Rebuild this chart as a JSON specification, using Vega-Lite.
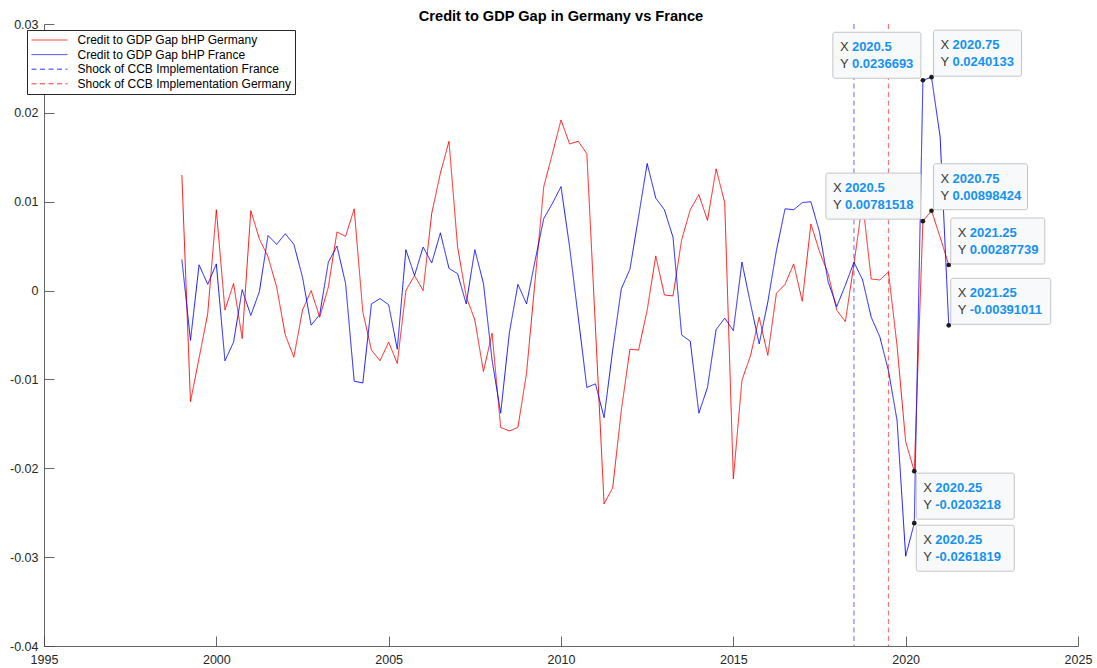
{
  "$schema": "https://vega.github.io/schema/vega-lite/v6.json",
  "autosize": "none",
  "width": 1034,
  "height": 622,
  "padding": {"left": 44, "top": 24, "right": 19, "bottom": 22},
  "background": "white",
  "title": {"text": "Credit to GDP Gap in Germany vs France", "font": "Liberation Sans", "fontSize": 14.6, "fontWeight": "bold", "color": "black", "anchor": "middle", "offset": -6},
  "config": {
    "view": {"stroke": null},
    "axis": {"grid": false, "title": null, "labelFont": "Liberation Sans", "labelFontSize": 12.5, "labelColor": "#262626", "domainColor": "#404040", "domainWidth": 0.8, "tickColor": "#404040", "tickWidth": 0.8, "tickSize": -10, "labelFlush": false, "labelOverlap": false}
  },
  "datasets": {
    "gaps": [
      {"t":1999.0,"series":"Credit to GDP Gap bHP Germany","gap":0.0130},
      {"t":1999.25,"series":"Credit to GDP Gap bHP Germany","gap":-0.0125},
      {"t":1999.5,"series":"Credit to GDP Gap bHP Germany","gap":-0.0076},
      {"t":1999.75,"series":"Credit to GDP Gap bHP Germany","gap":-0.0026},
      {"t":2000.0,"series":"Credit to GDP Gap bHP Germany","gap":0.0091},
      {"t":2000.25,"series":"Credit to GDP Gap bHP Germany","gap":-0.0022},
      {"t":2000.5,"series":"Credit to GDP Gap bHP Germany","gap":0.0008},
      {"t":2000.75,"series":"Credit to GDP Gap bHP Germany","gap":-0.0054},
      {"t":2001.0,"series":"Credit to GDP Gap bHP Germany","gap":0.0090},
      {"t":2001.25,"series":"Credit to GDP Gap bHP Germany","gap":0.0058},
      {"t":2001.5,"series":"Credit to GDP Gap bHP Germany","gap":0.0038},
      {"t":2001.75,"series":"Credit to GDP Gap bHP Germany","gap":0.0004},
      {"t":2002.0,"series":"Credit to GDP Gap bHP Germany","gap":-0.0050},
      {"t":2002.25,"series":"Credit to GDP Gap bHP Germany","gap":-0.0075},
      {"t":2002.5,"series":"Credit to GDP Gap bHP Germany","gap":-0.0022},
      {"t":2002.75,"series":"Credit to GDP Gap bHP Germany","gap":0.0000},
      {"t":2003.0,"series":"Credit to GDP Gap bHP Germany","gap":-0.0030},
      {"t":2003.25,"series":"Credit to GDP Gap bHP Germany","gap":0.0004},
      {"t":2003.5,"series":"Credit to GDP Gap bHP Germany","gap":0.0066},
      {"t":2003.75,"series":"Credit to GDP Gap bHP Germany","gap":0.0061},
      {"t":2004.0,"series":"Credit to GDP Gap bHP Germany","gap":0.0092},
      {"t":2004.25,"series":"Credit to GDP Gap bHP Germany","gap":-0.0024},
      {"t":2004.5,"series":"Credit to GDP Gap bHP Germany","gap":-0.0067},
      {"t":2004.75,"series":"Credit to GDP Gap bHP Germany","gap":-0.0079},
      {"t":2005.0,"series":"Credit to GDP Gap bHP Germany","gap":-0.0058},
      {"t":2005.25,"series":"Credit to GDP Gap bHP Germany","gap":-0.0082},
      {"t":2005.5,"series":"Credit to GDP Gap bHP Germany","gap":0.0000},
      {"t":2005.75,"series":"Credit to GDP Gap bHP Germany","gap":0.0017},
      {"t":2006.0,"series":"Credit to GDP Gap bHP Germany","gap":0.0000},
      {"t":2006.25,"series":"Credit to GDP Gap bHP Germany","gap":0.0087},
      {"t":2006.5,"series":"Credit to GDP Gap bHP Germany","gap":0.0132},
      {"t":2006.75,"series":"Credit to GDP Gap bHP Germany","gap":0.0168},
      {"t":2007.0,"series":"Credit to GDP Gap bHP Germany","gap":0.0049},
      {"t":2007.25,"series":"Credit to GDP Gap bHP Germany","gap":-0.0007},
      {"t":2007.5,"series":"Credit to GDP Gap bHP Germany","gap":-0.0033},
      {"t":2007.75,"series":"Credit to GDP Gap bHP Germany","gap":-0.0091},
      {"t":2008.0,"series":"Credit to GDP Gap bHP Germany","gap":-0.0048},
      {"t":2008.25,"series":"Credit to GDP Gap bHP Germany","gap":-0.0154},
      {"t":2008.5,"series":"Credit to GDP Gap bHP Germany","gap":-0.0158},
      {"t":2008.75,"series":"Credit to GDP Gap bHP Germany","gap":-0.0154},
      {"t":2009.0,"series":"Credit to GDP Gap bHP Germany","gap":-0.0093},
      {"t":2009.25,"series":"Credit to GDP Gap bHP Germany","gap":0.0012},
      {"t":2009.5,"series":"Credit to GDP Gap bHP Germany","gap":0.0117},
      {"t":2009.75,"series":"Credit to GDP Gap bHP Germany","gap":0.0154},
      {"t":2010.0,"series":"Credit to GDP Gap bHP Germany","gap":0.0192},
      {"t":2010.25,"series":"Credit to GDP Gap bHP Germany","gap":0.0165},
      {"t":2010.5,"series":"Credit to GDP Gap bHP Germany","gap":0.0168},
      {"t":2010.75,"series":"Credit to GDP Gap bHP Germany","gap":0.0154},
      {"t":2011.0,"series":"Credit to GDP Gap bHP Germany","gap":-0.0042},
      {"t":2011.25,"series":"Credit to GDP Gap bHP Germany","gap":-0.0240},
      {"t":2011.5,"series":"Credit to GDP Gap bHP Germany","gap":-0.0222},
      {"t":2011.75,"series":"Credit to GDP Gap bHP Germany","gap":-0.0135},
      {"t":2012.0,"series":"Credit to GDP Gap bHP Germany","gap":-0.0066},
      {"t":2012.25,"series":"Credit to GDP Gap bHP Germany","gap":-0.0067},
      {"t":2012.5,"series":"Credit to GDP Gap bHP Germany","gap":-0.0022},
      {"t":2012.75,"series":"Credit to GDP Gap bHP Germany","gap":0.0039},
      {"t":2013.0,"series":"Credit to GDP Gap bHP Germany","gap":-0.0005},
      {"t":2013.25,"series":"Credit to GDP Gap bHP Germany","gap":-0.0006},
      {"t":2013.5,"series":"Credit to GDP Gap bHP Germany","gap":0.0057},
      {"t":2013.75,"series":"Credit to GDP Gap bHP Germany","gap":0.0091},
      {"t":2014.0,"series":"Credit to GDP Gap bHP Germany","gap":0.0108},
      {"t":2014.25,"series":"Credit to GDP Gap bHP Germany","gap":0.0079},
      {"t":2014.5,"series":"Credit to GDP Gap bHP Germany","gap":0.0137},
      {"t":2014.75,"series":"Credit to GDP Gap bHP Germany","gap":0.0099},
      {"t":2015.0,"series":"Credit to GDP Gap bHP Germany","gap":-0.0212},
      {"t":2015.25,"series":"Credit to GDP Gap bHP Germany","gap":-0.0101},
      {"t":2015.5,"series":"Credit to GDP Gap bHP Germany","gap":-0.0073},
      {"t":2015.75,"series":"Credit to GDP Gap bHP Germany","gap":-0.0030},
      {"t":2016.0,"series":"Credit to GDP Gap bHP Germany","gap":-0.0073},
      {"t":2016.25,"series":"Credit to GDP Gap bHP Germany","gap":-0.0003},
      {"t":2016.5,"series":"Credit to GDP Gap bHP Germany","gap":0.0007},
      {"t":2016.75,"series":"Credit to GDP Gap bHP Germany","gap":0.0030},
      {"t":2017.0,"series":"Credit to GDP Gap bHP Germany","gap":-0.0012},
      {"t":2017.25,"series":"Credit to GDP Gap bHP Germany","gap":0.0075},
      {"t":2017.5,"series":"Credit to GDP Gap bHP Germany","gap":0.0044},
      {"t":2017.75,"series":"Credit to GDP Gap bHP Germany","gap":0.0019},
      {"t":2018.0,"series":"Credit to GDP Gap bHP Germany","gap":-0.0022},
      {"t":2018.25,"series":"Credit to GDP Gap bHP Germany","gap":-0.0035},
      {"t":2018.5,"series":"Credit to GDP Gap bHP Germany","gap":0.0030},
      {"t":2018.75,"series":"Credit to GDP Gap bHP Germany","gap":0.0100},
      {"t":2019.0,"series":"Credit to GDP Gap bHP Germany","gap":0.0013},
      {"t":2019.25,"series":"Credit to GDP Gap bHP Germany","gap":0.0012},
      {"t":2019.5,"series":"Credit to GDP Gap bHP Germany","gap":0.0021},
      {"t":2019.75,"series":"Credit to GDP Gap bHP Germany","gap":-0.0062},
      {"t":2020.0,"series":"Credit to GDP Gap bHP Germany","gap":-0.0170},
      {"t":2020.25,"series":"Credit to GDP Gap bHP Germany","gap":-0.0203218},
      {"t":2020.5,"series":"Credit to GDP Gap bHP Germany","gap":0.00781518},
      {"t":2020.75,"series":"Credit to GDP Gap bHP Germany","gap":0.00898424},
      {"t":2021.0,"series":"Credit to GDP Gap bHP Germany","gap":0.0060},
      {"t":2021.25,"series":"Credit to GDP Gap bHP Germany","gap":0.00287739},
      {"t":1999.0,"series":"Credit to GDP Gap bHP France","gap":0.0035},
      {"t":1999.25,"series":"Credit to GDP Gap bHP France","gap":-0.0056},
      {"t":1999.5,"series":"Credit to GDP Gap bHP France","gap":0.0029},
      {"t":1999.75,"series":"Credit to GDP Gap bHP France","gap":0.0007},
      {"t":2000.0,"series":"Credit to GDP Gap bHP France","gap":0.0030},
      {"t":2000.25,"series":"Credit to GDP Gap bHP France","gap":-0.0079},
      {"t":2000.5,"series":"Credit to GDP Gap bHP France","gap":-0.0058},
      {"t":2000.75,"series":"Credit to GDP Gap bHP France","gap":0.0001},
      {"t":2001.0,"series":"Credit to GDP Gap bHP France","gap":-0.0028},
      {"t":2001.25,"series":"Credit to GDP Gap bHP France","gap":-0.0001},
      {"t":2001.5,"series":"Credit to GDP Gap bHP France","gap":0.0062},
      {"t":2001.75,"series":"Credit to GDP Gap bHP France","gap":0.0052},
      {"t":2002.0,"series":"Credit to GDP Gap bHP France","gap":0.0064},
      {"t":2002.25,"series":"Credit to GDP Gap bHP France","gap":0.0052},
      {"t":2002.5,"series":"Credit to GDP Gap bHP France","gap":0.0015},
      {"t":2002.75,"series":"Credit to GDP Gap bHP France","gap":-0.0039},
      {"t":2003.0,"series":"Credit to GDP Gap bHP France","gap":-0.0027},
      {"t":2003.25,"series":"Credit to GDP Gap bHP France","gap":0.0032},
      {"t":2003.5,"series":"Credit to GDP Gap bHP France","gap":0.0050},
      {"t":2003.75,"series":"Credit to GDP Gap bHP France","gap":0.0008},
      {"t":2004.0,"series":"Credit to GDP Gap bHP France","gap":-0.0102},
      {"t":2004.25,"series":"Credit to GDP Gap bHP France","gap":-0.0104},
      {"t":2004.5,"series":"Credit to GDP Gap bHP France","gap":-0.0015},
      {"t":2004.75,"series":"Credit to GDP Gap bHP France","gap":-0.0009},
      {"t":2005.0,"series":"Credit to GDP Gap bHP France","gap":-0.0016},
      {"t":2005.25,"series":"Credit to GDP Gap bHP France","gap":-0.0066},
      {"t":2005.5,"series":"Credit to GDP Gap bHP France","gap":0.0046},
      {"t":2005.75,"series":"Credit to GDP Gap bHP France","gap":0.0017},
      {"t":2006.0,"series":"Credit to GDP Gap bHP France","gap":0.0049},
      {"t":2006.25,"series":"Credit to GDP Gap bHP France","gap":0.0031},
      {"t":2006.5,"series":"Credit to GDP Gap bHP France","gap":0.0065},
      {"t":2006.75,"series":"Credit to GDP Gap bHP France","gap":0.0025},
      {"t":2007.0,"series":"Credit to GDP Gap bHP France","gap":0.0019},
      {"t":2007.25,"series":"Credit to GDP Gap bHP France","gap":-0.0015},
      {"t":2007.5,"series":"Credit to GDP Gap bHP France","gap":0.0046},
      {"t":2007.75,"series":"Credit to GDP Gap bHP France","gap":0.0008},
      {"t":2008.0,"series":"Credit to GDP Gap bHP France","gap":-0.0078},
      {"t":2008.25,"series":"Credit to GDP Gap bHP France","gap":-0.0138},
      {"t":2008.5,"series":"Credit to GDP Gap bHP France","gap":-0.0048},
      {"t":2008.75,"series":"Credit to GDP Gap bHP France","gap":0.0007},
      {"t":2009.0,"series":"Credit to GDP Gap bHP France","gap":-0.0015},
      {"t":2009.25,"series":"Credit to GDP Gap bHP France","gap":0.0034},
      {"t":2009.5,"series":"Credit to GDP Gap bHP France","gap":0.0081},
      {"t":2009.75,"series":"Credit to GDP Gap bHP France","gap":0.0098},
      {"t":2010.0,"series":"Credit to GDP Gap bHP France","gap":0.0117},
      {"t":2010.25,"series":"Credit to GDP Gap bHP France","gap":0.0049},
      {"t":2010.5,"series":"Credit to GDP Gap bHP France","gap":-0.0030},
      {"t":2010.75,"series":"Credit to GDP Gap bHP France","gap":-0.0109},
      {"t":2011.0,"series":"Credit to GDP Gap bHP France","gap":-0.0105},
      {"t":2011.25,"series":"Credit to GDP Gap bHP France","gap":-0.0143},
      {"t":2011.5,"series":"Credit to GDP Gap bHP France","gap":-0.0067},
      {"t":2011.75,"series":"Credit to GDP Gap bHP France","gap":0.0002},
      {"t":2012.0,"series":"Credit to GDP Gap bHP France","gap":0.0024},
      {"t":2012.25,"series":"Credit to GDP Gap bHP France","gap":0.0083},
      {"t":2012.5,"series":"Credit to GDP Gap bHP France","gap":0.0143},
      {"t":2012.75,"series":"Credit to GDP Gap bHP France","gap":0.0104},
      {"t":2013.0,"series":"Credit to GDP Gap bHP France","gap":0.0091},
      {"t":2013.25,"series":"Credit to GDP Gap bHP France","gap":0.0060},
      {"t":2013.5,"series":"Credit to GDP Gap bHP France","gap":-0.0050},
      {"t":2013.75,"series":"Credit to GDP Gap bHP France","gap":-0.0057},
      {"t":2014.0,"series":"Credit to GDP Gap bHP France","gap":-0.0138},
      {"t":2014.25,"series":"Credit to GDP Gap bHP France","gap":-0.0109},
      {"t":2014.5,"series":"Credit to GDP Gap bHP France","gap":-0.0044},
      {"t":2014.75,"series":"Credit to GDP Gap bHP France","gap":-0.0031},
      {"t":2015.0,"series":"Credit to GDP Gap bHP France","gap":-0.0045},
      {"t":2015.25,"series":"Credit to GDP Gap bHP France","gap":0.0032},
      {"t":2015.5,"series":"Credit to GDP Gap bHP France","gap":-0.0015},
      {"t":2015.75,"series":"Credit to GDP Gap bHP France","gap":-0.0060},
      {"t":2016.0,"series":"Credit to GDP Gap bHP France","gap":-0.0013},
      {"t":2016.25,"series":"Credit to GDP Gap bHP France","gap":0.0045},
      {"t":2016.5,"series":"Credit to GDP Gap bHP France","gap":0.0092},
      {"t":2016.75,"series":"Credit to GDP Gap bHP France","gap":0.0091},
      {"t":2017.0,"series":"Credit to GDP Gap bHP France","gap":0.0099},
      {"t":2017.25,"series":"Credit to GDP Gap bHP France","gap":0.0100},
      {"t":2017.5,"series":"Credit to GDP Gap bHP France","gap":0.0066},
      {"t":2017.75,"series":"Credit to GDP Gap bHP France","gap":0.0010},
      {"t":2018.0,"series":"Credit to GDP Gap bHP France","gap":-0.0018},
      {"t":2018.25,"series":"Credit to GDP Gap bHP France","gap":0.0006},
      {"t":2018.5,"series":"Credit to GDP Gap bHP France","gap":0.0032},
      {"t":2018.75,"series":"Credit to GDP Gap bHP France","gap":0.0012},
      {"t":2019.0,"series":"Credit to GDP Gap bHP France","gap":-0.0030},
      {"t":2019.25,"series":"Credit to GDP Gap bHP France","gap":-0.0052},
      {"t":2019.5,"series":"Credit to GDP Gap bHP France","gap":-0.0090},
      {"t":2019.75,"series":"Credit to GDP Gap bHP France","gap":-0.0146},
      {"t":2020.0,"series":"Credit to GDP Gap bHP France","gap":-0.0299},
      {"t":2020.25,"series":"Credit to GDP Gap bHP France","gap":-0.0261819},
      {"t":2020.5,"series":"Credit to GDP Gap bHP France","gap":0.0236693},
      {"t":2020.75,"series":"Credit to GDP Gap bHP France","gap":0.0240133},
      {"t":2021.0,"series":"Credit to GDP Gap bHP France","gap":0.0173},
      {"t":2021.25,"series":"Credit to GDP Gap bHP France","gap":-0.00391011}
    ],
    "shocks": [
      {"t":2018.5,"series":"Shock of CCB Implementation France"},
      {"t":2019.5,"series":"Shock of CCB Implementation Germany"}
    ],
    "tips": [
      {"t":2020.25,"v":-0.0203218,"s":"DE"},
      {"t":2020.25,"v":-0.0261819,"s":"FR"},
      {"t":2020.5,"v":0.00781518,"s":"DE"},
      {"t":2020.5,"v":0.0236693,"s":"FR"},
      {"t":2020.75,"v":0.00898424,"s":"DE"},
      {"t":2020.75,"v":0.0240133,"s":"FR"},
      {"t":2021.25,"v":0.00287739,"s":"DE"},
      {"t":2021.25,"v":-0.00391011,"s":"FR"}
    ]
  },
  "layer": [
    {
      "data": {"name": "gaps"},
      "mark": {"type": "line", "strokeWidth": 0.9},
      "encoding": {
        "x": {"field": "t", "type": "quantitative", "scale": {"domain": [1995, 2025], "nice": false, "zero": false}, "axis": {"values": [1995, 2000, 2005, 2010, 2015, 2020, 2025], "format": "d", "labelPadding": 17}},
        "y": {"field": "gap", "type": "quantitative", "scale": {"domain": [-0.04, 0.03], "nice": false, "zero": false}, "axis": {"values": [-0.04, -0.03, -0.02, -0.01, 0, 0.01, 0.02, 0.03], "labelExpr": "'' + datum.value", "labelPadding": 16}},
        "color": {"field": "series", "type": "nominal", "scale": {"domain": ["Credit to GDP Gap bHP Germany", "Credit to GDP Gap bHP France", "Shock of CCB Implementation France", "Shock of CCB Implementation Germany"], "range": ["#ff0000", "#0000ff", "#0000ff", "#ff0000"]}, "legend": {"title": null, "orient": "none", "legendX": -17, "legendY": 6, "direction": "vertical", "symbolType": "stroke", "symbolSize": 1296, "symbolStrokeWidth": 0.8, "clipHeight": 12, "rowPadding": 2.6, "padding": 4, "labelOffset": 9.5, "labelLimit": 400, "labelFont": "Liberation Sans", "labelFontSize": 12, "labelColor": "black", "fillColor": "white", "strokeColor": "#262626", "cornerRadius": 0}},
        "strokeDash": {"field": "series", "type": "nominal", "scale": {"domain": ["Credit to GDP Gap bHP Germany", "Credit to GDP Gap bHP France", "Shock of CCB Implementation France", "Shock of CCB Implementation Germany"], "range": [[1, 0], [1, 0], [5, 3.5], [5, 3.5]]}, "legend": {"title": null, "orient": "none", "legendX": -17, "legendY": 6, "direction": "vertical", "symbolType": "stroke", "symbolSize": 1296, "symbolStrokeWidth": 0.8, "clipHeight": 12, "rowPadding": 2.6, "padding": 4, "labelOffset": 9.5, "labelLimit": 400, "labelFont": "Liberation Sans", "labelFontSize": 12, "labelColor": "black", "fillColor": "white", "strokeColor": "#262626", "cornerRadius": 0}}
      }
    },
    {
      "data": {"name": "shocks"},
      "mark": {"type": "rule", "strokeWidth": 0.6},
      "encoding": {
        "x": {"field": "t", "type": "quantitative"},
        "color": {"field": "series", "type": "nominal"},
        "strokeDash": {"field": "series", "type": "nominal"}
      }
    },
    {
      "mark": {"type": "rule", "color": "#8c8c8c", "strokeWidth": 1},
      "encoding": {"y": {"datum": 0}}
    },
    {
      "data": {"name": "tips"},
      "layer": [
        {"transform": [{"filter": "datum.t == 2020.5 && datum.s == 'FR'"}], "mark": {"type": "rect", "fill": "#f8f9fb", "stroke": "#c4c4c4", "strokeWidth": 1, "cornerRadius": 2, "xOffset": -90, "x2Offset": -2, "yOffset": -48, "y2Offset": -2}, "encoding": {"x": {"field": "t", "type": "quantitative"}, "x2": {"field": "t"}, "y": {"field": "v", "type": "quantitative"}, "y2": {"field": "v"}}},
        {"transform": [{"filter": "datum.t == 2020.5 && datum.s == 'DE'"}], "mark": {"type": "rect", "fill": "#f8f9fb", "stroke": "#c4c4c4", "strokeWidth": 1, "cornerRadius": 2, "xOffset": -97, "x2Offset": -2, "yOffset": -48, "y2Offset": -2}, "encoding": {"x": {"field": "t", "type": "quantitative"}, "x2": {"field": "t"}, "y": {"field": "v", "type": "quantitative"}, "y2": {"field": "v"}}},
        {"transform": [{"filter": "datum.t == 2020.75 && datum.s == 'FR'"}], "mark": {"type": "rect", "fill": "#f8f9fb", "stroke": "#c4c4c4", "strokeWidth": 1, "cornerRadius": 2, "xOffset": 2, "x2Offset": 90, "yOffset": -47, "y2Offset": -1}, "encoding": {"x": {"field": "t", "type": "quantitative"}, "x2": {"field": "t"}, "y": {"field": "v", "type": "quantitative"}, "y2": {"field": "v"}}},
        {"transform": [{"filter": "datum.s == 'DE' && (datum.t == 2020.75 || datum.t == 2021.25)"}], "mark": {"type": "rect", "fill": "#f8f9fb", "stroke": "#c4c4c4", "strokeWidth": 1, "cornerRadius": 2, "xOffset": 2, "x2Offset": 96, "yOffset": -47, "y2Offset": -1}, "encoding": {"x": {"field": "t", "type": "quantitative"}, "x2": {"field": "t"}, "y": {"field": "v", "type": "quantitative"}, "y2": {"field": "v"}}},
        {"transform": [{"filter": "datum.t == 2021.25 && datum.s == 'FR'"}], "mark": {"type": "rect", "fill": "#f8f9fb", "stroke": "#c4c4c4", "strokeWidth": 1, "cornerRadius": 2, "xOffset": 2, "x2Offset": 102, "yOffset": -47, "y2Offset": -1}, "encoding": {"x": {"field": "t", "type": "quantitative"}, "x2": {"field": "t"}, "y": {"field": "v", "type": "quantitative"}, "y2": {"field": "v"}}},
        {"transform": [{"filter": "datum.t == 2020.25"}], "mark": {"type": "rect", "fill": "#f8f9fb", "stroke": "#c4c4c4", "strokeWidth": 1, "cornerRadius": 2, "xOffset": 2, "x2Offset": 100, "yOffset": 2, "y2Offset": 48}, "encoding": {"x": {"field": "t", "type": "quantitative"}, "x2": {"field": "t"}, "y": {"field": "v", "type": "quantitative"}, "y2": {"field": "v"}}},
        {"mark": {"type": "point", "filled": true, "color": "#1c1c1c", "size": 22, "opacity": 1}, "encoding": {"x": {"field": "t", "type": "quantitative"}, "y": {"field": "v", "type": "quantitative"}}},

        {"transform": [{"filter": "datum.t == 2020.5 && datum.s == 'FR'"}], "mark": {"type": "text", "text": "X", "align": "left", "baseline": "middle", "font": "Liberation Sans", "fontSize": 13, "color": "#3a3a3a", "dx": -83, "dy": -33}, "encoding": {"x": {"field": "t", "type": "quantitative"}, "y": {"field": "v", "type": "quantitative"}}},
        {"transform": [{"filter": "datum.t == 2020.5 && datum.s == 'FR'"}], "mark": {"type": "text", "text": "Y", "align": "left", "baseline": "middle", "font": "Liberation Sans", "fontSize": 13, "color": "#3a3a3a", "dx": -83, "dy": -16}, "encoding": {"x": {"field": "t", "type": "quantitative"}, "y": {"field": "v", "type": "quantitative"}}},
        {"transform": [{"filter": "datum.t == 2020.5 && datum.s == 'FR'"}], "mark": {"type": "text", "align": "left", "baseline": "middle", "font": "Liberation Sans", "fontSize": 13, "fontWeight": "bold", "color": "#1592f0", "dx": -71, "dy": -33}, "encoding": {"x": {"field": "t", "type": "quantitative"}, "y": {"field": "v", "type": "quantitative"}, "text": {"field": "t", "type": "nominal"}}},
        {"transform": [{"filter": "datum.t == 2020.5 && datum.s == 'FR'"}], "mark": {"type": "text", "align": "left", "baseline": "middle", "font": "Liberation Sans", "fontSize": 13, "fontWeight": "bold", "color": "#1592f0", "dx": -71, "dy": -16}, "encoding": {"x": {"field": "t", "type": "quantitative"}, "y": {"field": "v", "type": "quantitative"}, "text": {"field": "v", "type": "nominal"}}},

        {"transform": [{"filter": "datum.t == 2020.5 && datum.s == 'DE'"}], "mark": {"type": "text", "text": "X", "align": "left", "baseline": "middle", "font": "Liberation Sans", "fontSize": 13, "color": "#3a3a3a", "dx": -90, "dy": -33}, "encoding": {"x": {"field": "t", "type": "quantitative"}, "y": {"field": "v", "type": "quantitative"}}},
        {"transform": [{"filter": "datum.t == 2020.5 && datum.s == 'DE'"}], "mark": {"type": "text", "text": "Y", "align": "left", "baseline": "middle", "font": "Liberation Sans", "fontSize": 13, "color": "#3a3a3a", "dx": -90, "dy": -16}, "encoding": {"x": {"field": "t", "type": "quantitative"}, "y": {"field": "v", "type": "quantitative"}}},
        {"transform": [{"filter": "datum.t == 2020.5 && datum.s == 'DE'"}], "mark": {"type": "text", "align": "left", "baseline": "middle", "font": "Liberation Sans", "fontSize": 13, "fontWeight": "bold", "color": "#1592f0", "dx": -78, "dy": -33}, "encoding": {"x": {"field": "t", "type": "quantitative"}, "y": {"field": "v", "type": "quantitative"}, "text": {"field": "t", "type": "nominal"}}},
        {"transform": [{"filter": "datum.t == 2020.5 && datum.s == 'DE'"}], "mark": {"type": "text", "align": "left", "baseline": "middle", "font": "Liberation Sans", "fontSize": 13, "fontWeight": "bold", "color": "#1592f0", "dx": -78, "dy": -16}, "encoding": {"x": {"field": "t", "type": "quantitative"}, "y": {"field": "v", "type": "quantitative"}, "text": {"field": "v", "type": "nominal"}}},

        {"transform": [{"filter": "datum.t == 2020.75 || datum.t == 2021.25"}], "mark": {"type": "text", "text": "X", "align": "left", "baseline": "middle", "font": "Liberation Sans", "fontSize": 13, "color": "#3a3a3a", "dx": 9, "dy": -32}, "encoding": {"x": {"field": "t", "type": "quantitative"}, "y": {"field": "v", "type": "quantitative"}}},
        {"transform": [{"filter": "datum.t == 2020.75 || datum.t == 2021.25"}], "mark": {"type": "text", "text": "Y", "align": "left", "baseline": "middle", "font": "Liberation Sans", "fontSize": 13, "color": "#3a3a3a", "dx": 9, "dy": -15}, "encoding": {"x": {"field": "t", "type": "quantitative"}, "y": {"field": "v", "type": "quantitative"}}},
        {"transform": [{"filter": "datum.t == 2020.75 || datum.t == 2021.25"}], "mark": {"type": "text", "align": "left", "baseline": "middle", "font": "Liberation Sans", "fontSize": 13, "fontWeight": "bold", "color": "#1592f0", "dx": 21, "dy": -32}, "encoding": {"x": {"field": "t", "type": "quantitative"}, "y": {"field": "v", "type": "quantitative"}, "text": {"field": "t", "type": "nominal"}}},
        {"transform": [{"filter": "datum.t == 2020.75 || datum.t == 2021.25"}], "mark": {"type": "text", "align": "left", "baseline": "middle", "font": "Liberation Sans", "fontSize": 13, "fontWeight": "bold", "color": "#1592f0", "dx": 21, "dy": -15}, "encoding": {"x": {"field": "t", "type": "quantitative"}, "y": {"field": "v", "type": "quantitative"}, "text": {"field": "v", "type": "nominal"}}},

        {"transform": [{"filter": "datum.t == 2020.25"}], "mark": {"type": "text", "text": "X", "align": "left", "baseline": "middle", "font": "Liberation Sans", "fontSize": 13, "color": "#3a3a3a", "dx": 9, "dy": 17}, "encoding": {"x": {"field": "t", "type": "quantitative"}, "y": {"field": "v", "type": "quantitative"}}},
        {"transform": [{"filter": "datum.t == 2020.25"}], "mark": {"type": "text", "text": "Y", "align": "left", "baseline": "middle", "font": "Liberation Sans", "fontSize": 13, "color": "#3a3a3a", "dx": 9, "dy": 34}, "encoding": {"x": {"field": "t", "type": "quantitative"}, "y": {"field": "v", "type": "quantitative"}}},
        {"transform": [{"filter": "datum.t == 2020.25"}], "mark": {"type": "text", "align": "left", "baseline": "middle", "font": "Liberation Sans", "fontSize": 13, "fontWeight": "bold", "color": "#1592f0", "dx": 21, "dy": 17}, "encoding": {"x": {"field": "t", "type": "quantitative"}, "y": {"field": "v", "type": "quantitative"}, "text": {"field": "t", "type": "nominal"}}},
        {"transform": [{"filter": "datum.t == 2020.25"}], "mark": {"type": "text", "align": "left", "baseline": "middle", "font": "Liberation Sans", "fontSize": 13, "fontWeight": "bold", "color": "#1592f0", "dx": 21, "dy": 34}, "encoding": {"x": {"field": "t", "type": "quantitative"}, "y": {"field": "v", "type": "quantitative"}, "text": {"field": "v", "type": "nominal"}}}
      ]
    }
  ]
}
